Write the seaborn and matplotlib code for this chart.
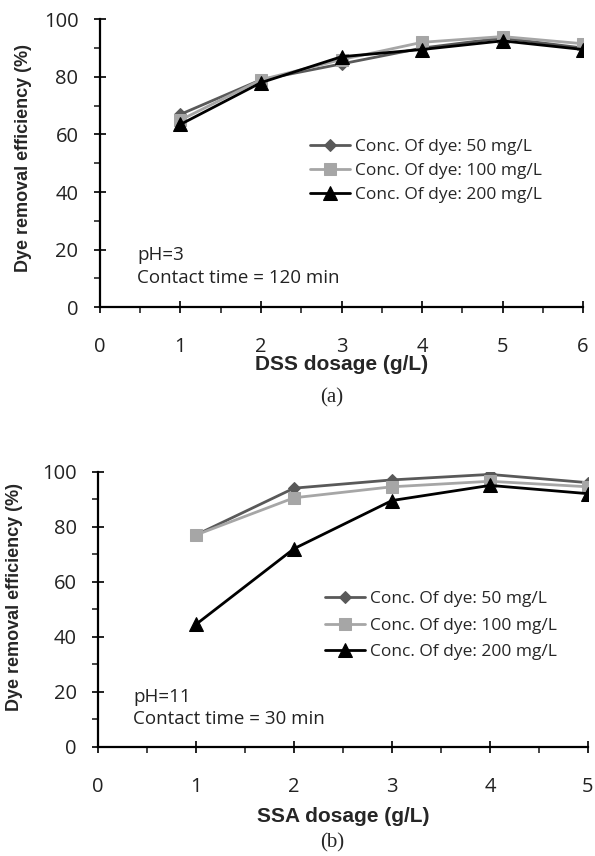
import numpy as np
import pandas as pd
import matplotlib
matplotlib.use("Agg")
import matplotlib.pyplot as plt
import seaborn as sns
from matplotlib.ticker import MultipleLocator

# ---- data ----
series_names = ["Conc. Of dye: 50 mg/L", "Conc. Of dye: 100 mg/L", "Conc. Of dye: 200 mg/L"]

dss_dose = [1, 2, 3, 4, 5, 6]
dss_50 = [67, 79, 84.5, 90, 93.5, 90]
dss_100 = [65, 79, 86, 92, 94, 91.5]
dss_200 = [63.5, 78, 87, 89.5, 92.5, 89.5]

ssa_dose = [1, 2, 3, 4, 5]
ssa_50 = [77, 94, 97, 99, 96]
ssa_100 = [77, 90.5, 94.5, 96.5, 94.5]
ssa_200 = [44.5, 72, 89.5, 95, 92]

y_ticks = [0, 20, 40, 60, 80, 100]

def long_df(x, ys):
    rows = []
    for name, vals in zip(series_names, ys):
        for xi, yi in zip(x, vals):
            rows.append({"dose": xi, "eff": yi, "series": name})
    return pd.DataFrame(rows)

df_a = long_df(dss_dose, [dss_50, dss_100, dss_200])
df_b = long_df(ssa_dose, [ssa_50, ssa_100, ssa_200])

sns.set_theme(style="white")
plt.rcParams['font.family'] = ['Open Sans', 'DejaVu Sans']

palette = dict(zip(series_names, ["#595959", "#a6a6a6", "#000000"]))
markers = dict(zip(series_names, ["D", "s", "^"]))
msizes = {"D": 6.5, "s": 8.5, "^": 9.5}

fig = plt.figure(figsize=(5.95, 8.56), dpi=100)
ax1 = fig.add_axes([0.168, 0.641, 0.812, 0.3365])
ax2 = fig.add_axes([0.165, 0.1277, 0.823, 0.3213])

def draw(ax, df, xmax, xlabel, tag, note1, note2, legend_pos, note_pos,
         ylab_xy, xlab_xy, lspace):
    for name in series_names:
        sub = df[df["series"] == name]
        m = markers[name]
        sns.lineplot(data=sub, x="dose", y="eff", ax=ax, color=palette[name],
                     marker=m, markersize=msizes[m], markeredgecolor=palette[name],
                     linewidth=2, label=name, legend=False)
    ax.set_xlim(0, xmax)
    ax.set_ylim(0, 100)
    ax.set_xticks(range(0, xmax + 1))
    ax.set_yticks(y_ticks)
    ax.xaxis.set_minor_locator(MultipleLocator(0.5))
    ax.yaxis.set_minor_locator(MultipleLocator(10))
    for s in ["top", "right"]:
        ax.spines[s].set_visible(False)
    for s in ["left", "bottom"]:
        ax.spines[s].set_color("black")
        ax.spines[s].set_linewidth(1.6)
    ax.tick_params(axis="both", which="major", direction="inout", length=9, width=1.4,
                   labelsize=14.5, colors="#222222", left=True, bottom=True)
    ax.tick_params(axis="both", which="minor", direction="out", length=4, width=1.2,
                   left=True, bottom=True)
    ax.tick_params(axis="x", which="major", pad=17)
    ax.tick_params(axis="y", which="major", pad=11)
    ax.set_xlabel(xlabel, fontsize=15, fontweight="bold", family="Liberation Sans")
    ax.set_ylabel("Dye removal efficiency (%)", fontsize=13, fontweight="bold",
                  family="Liberation Sans")
    ax.yaxis.set_label_coords(*ylab_xy)
    ax.xaxis.set_label_coords(*xlab_xy)
    ax.text(note_pos[0], note_pos[1], note1, transform=ax.transAxes, fontsize=13.5,
            va="center", color="#222222")
    ax.text(note_pos[0], note_pos[2], note2, transform=ax.transAxes, fontsize=13.5,
            va="center", color="#222222")
    ax.legend(loc="upper left", bbox_to_anchor=legend_pos, frameon=False,
              fontsize=12.5, handlelength=2.3, handletextpad=0.3, labelspacing=lspace,
              borderpad=0, borderaxespad=0)
    ax.text(tag[1], tag[2], tag[0], transform=ax.transAxes, ha="center", va="center",
            fontsize=15, family="Liberation Serif")

draw(ax1, df_a, 6, "DSS dosage (g/L)", ("(a)", 0.48, -0.313), "pH=3", "Contact time = 120 min",
     (0.435, 0.585), (0.077, 0.181, 0.10), (-0.141, 0.518), (0.5, -0.167), 0.45)
draw(ax2, df_b, 5, "SSA dosage (g/L)", ("(b)", 0.477, -0.35), "pH=11", "Contact time = 30 min",
     (0.463, 0.565), (0.071, 0.181, 0.10), (-0.154, 0.544), (0.5, -0.219), 0.58)

fig.savefig("out.png", dpi=100, facecolor="white")
